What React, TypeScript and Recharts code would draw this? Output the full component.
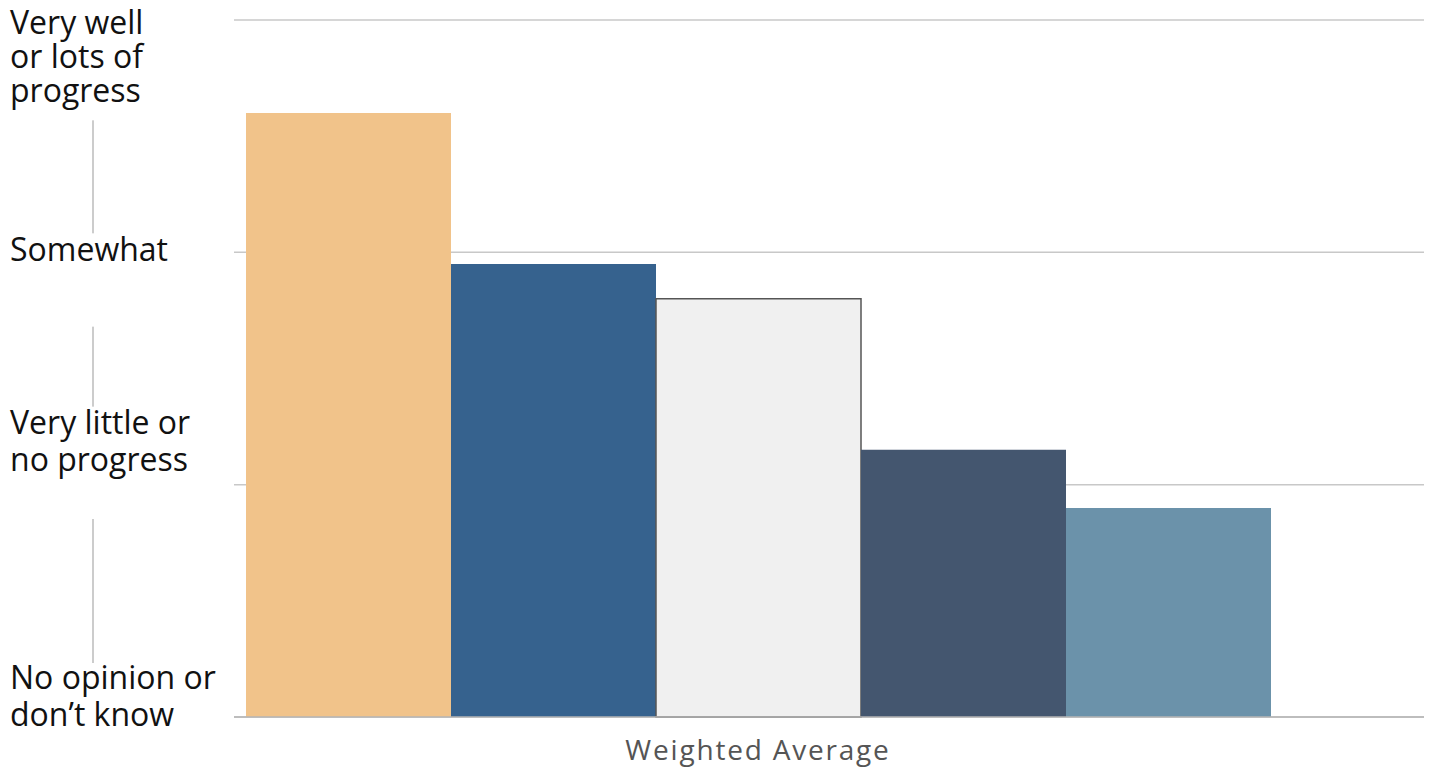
import { BarChart, Bar, XAxis, YAxis, CartesianGrid } from 'recharts';

// one category, five bars on a 0–3 rating scale
const categories = ['Weighted Average'];
const seriesNames = ['s1', 's2', 's3', 's4', 's5'];
const seriesValues = [2.6, 1.95, 1.8, 1.15, 0.9];
const seriesColors = ['#F1C38A', '#36628E', '#F0F0F0', '#44566F', '#6B92AA'];
const yTicks = [0, 1, 2, 3];
const yTickLabels: Record<number, string[]> = {
  3: ['Very well', 'or lots of', 'progress'],
  2: ['Somewhat'],
  1: ['Very little or', 'no progress'],
  0: ['No opinion or', 'don\u2019t know'],
};

const data = categories.map((name) => {
  const row: Record<string, string | number> = { name };
  seriesNames.forEach((s, i) => (row[s] = seriesValues[i]));
  return row;
});

// line baselines relative to the gridline, plus the little connector above each label
const labelLayout: Record<number, { dy: number[]; bar?: [number, number] }> = {
  3: { dy: [14, 48, 82] },
  2: { dy: [9], bar: [-132, -19] },
  1: { dy: [-51, -14], bar: [-158, -78] },
  0: { dy: [-28, 9], bar: [-198, -54] },
};

const YTick = (props: any) => {
  const { y, payload } = props;
  const v = payload.value as number;
  const lines = yTickLabels[v] || [];
  const lay = labelLayout[v];
  return (
    <g>
      {lay.bar && (
        <line x1={93} x2={93} y1={y + lay.bar[0]} y2={y + lay.bar[1]} stroke="#999" strokeWidth={1} />
      )}
      {lines.map((t, i) => (
        <text key={i} x={10} y={y + lay.dy[i]} fill="#111" fontSize={32} fontFamily="Open Sans" textAnchor="start">
          {t}
        </text>
      ))}
    </g>
  );
};

export default function App() {
  return (
    <div style={{ position: 'absolute', left: 0, top: 0, background: '#fff' }}>
      <BarChart
        width={1433}
        height={769}
        data={data}
        margin={{ top: 20, right: 9, left: 0, bottom: 0 }}
        barCategoryGap={12}
        barGap={0}
      >
        <CartesianGrid horizontal vertical={false} stroke="#c8c8c8" strokeWidth={1.5} />
        <XAxis
          dataKey="name"
          height={52}
          padding={{ left: 0, right: 142 }}
          axisLine={{ stroke: '#b5b5b5', strokeWidth: 1.5 }}
          tickLine={false}
          tick={{ fontSize: 28, fill: '#555', fontFamily: 'Open Sans', letterSpacing: 1.8 }}
          tickMargin={17}
        />
        <YAxis
          width={234}
          domain={[0, 3]}
          ticks={yTicks}
          axisLine={false}
          tickLine={false}
          tick={<YTick />}
          interval={0}
        />
        {seriesNames.map((s, i) => (
          <Bar
            key={s}
            dataKey={s}
            fill={seriesColors[i]}
            stroke={i === 2 ? '#555' : 'none'}
            strokeWidth={i === 2 ? 1.5 : 0}
            isAnimationActive={false}
          />
        ))}
      </BarChart>
    </div>
  );
}
